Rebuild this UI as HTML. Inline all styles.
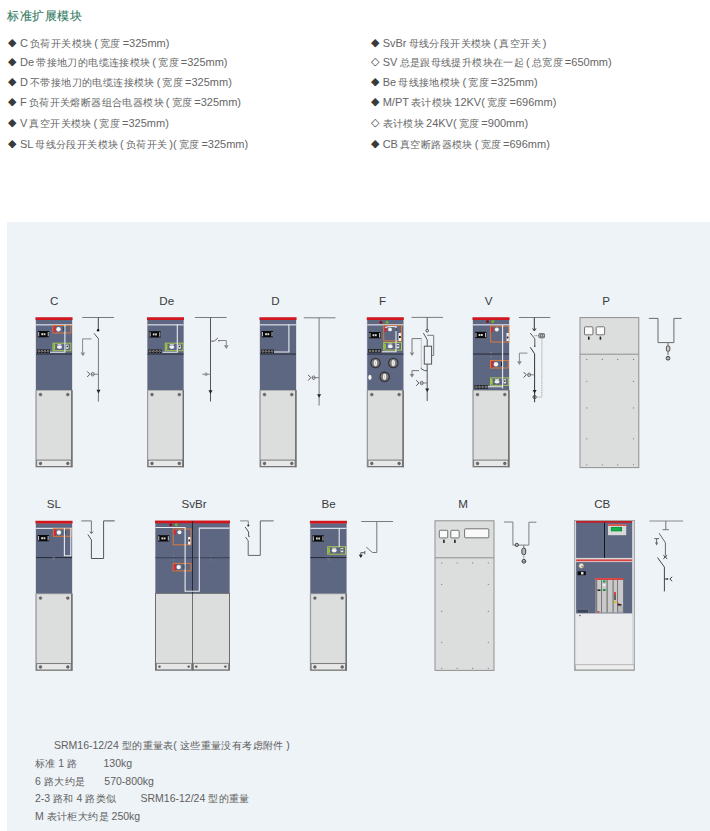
<!DOCTYPE html>
<html><head><meta charset="utf-8">
<style>
*{margin:0;padding:0;box-sizing:border-box}
html,body{width:710px;height:831px;overflow:hidden;background:#fff;font-family:"Liberation Sans",sans-serif}
.t{position:absolute;white-space:pre;color:#666;font-size:11px;line-height:14px;word-spacing:-0.9px}
.title{position:absolute;left:7.3px;top:8px;font-size:12px;letter-spacing:0.45px;color:#347c66;-webkit-text-stroke:0.12px #347c66;white-space:pre;line-height:16px}
i{font-style:normal;position:relative;top:-1px;margin-right:1.8px;color:#3a3a3a}
.r i{margin-right:2px}
b{font-weight:normal;font-size:10px;letter-spacing:0.4px;margin-right:-0.4px}
.panel{position:absolute;left:7px;top:222px;width:703px;height:609px;background:#eef3f7}
</style></head><body>
<div class="title">标准扩展模块</div>
<div class="t" style="left:8px;top:35.5px"><i>◆</i> C <b>负荷开关模块</b> ( <b>宽度</b> =325mm)</div>
<div class="t" style="left:8px;top:54.8px"><i>◆</i> De <b>带接地刀的电缆连接模块</b> ( <b>宽度</b> =325mm)</div>
<div class="t" style="left:8px;top:75px"><i>◆</i> D <b>不带接地刀的电缆连接模块</b> ( <b>宽度</b> =325mm)</div>
<div class="t" style="left:8px;top:95.3px"><i>◆</i> F <b>负荷开关熔断器组合电器模块</b> ( <b>宽度</b> =325mm)</div>
<div class="t" style="left:8px;top:115.5px"><i>◆</i> V <b>真空开关模块</b> ( <b>宽度</b> =325mm)</div>
<div class="t" style="left:8px;top:136.8px"><i>◆</i> SL <b>母线分段开关模块</b> ( <b>负荷开关</b> )( <b>宽度</b> =325mm)</div>
<div class="t r" style="left:370.5px;top:35.5px"><i>◆</i> SvBr <b>母线分段开关模块</b> ( <b>真空开关</b> )</div>
<div class="t r" style="left:370.5px;top:54.8px"><i>◇</i> SV <b>总是跟母线提升模块在一起</b> ( <b>总宽度</b> =650mm)</div>
<div class="t r" style="left:370.5px;top:75px"><i>◆</i> Be <b>母线接地模块</b> ( <b>宽度</b> =325mm)</div>
<div class="t r" style="left:370.5px;top:95.3px"><i>◆</i> M/PT <b>表计模块</b> 12KV( <b>宽度</b> =696mm)</div>
<div class="t r" style="left:370.5px;top:115.5px"><i>◇</i> <b>表计模块</b> 24KV( <b>宽度</b> =900mm)</div>
<div class="t r" style="left:370.5px;top:136.8px"><i>◆</i> CB <b>真空断路器模块</b> ( <b>宽度</b> =696mm)</div>
<div class="panel"></div>
<svg width="710" height="831" viewBox="0 0 710 831" style="position:absolute;left:0;top:0" font-family="Liberation Sans, sans-serif">
<defs>
<g id="cab">
  <rect x="0" y="0" width="37" height="150" fill="#c4c7cc"/>
  <rect x="0.5" y="2.5" width="36" height="70.4" fill="#5e6782"/>
  <rect x="0" y="0" width="37" height="2.7" fill="#d3151d"/>
  <rect x="0.5" y="7" width="36" height="1.1" fill="#e9ebef"/>
  <rect x="0.5" y="36.2" width="36" height="1.1" fill="#2a2f3c"/>
  <rect x="0" y="72.8" width="37" height="77.2" fill="#9a9a9a"/>
  <rect x="1.2" y="73.4" width="34.6" height="75.6" fill="#dcdedd"/>
  <rect x="35.6" y="72.8" width="1.4" height="77.2" fill="#6e6e6e"/>
  <rect x="1.2" y="142.8" width="34.4" height="6.4" fill="#e8e8e8" stroke="#6e6e6e" stroke-width="0.9"/>
  <g fill="#6a6a6a" stroke="#444" stroke-width="0.4"><circle cx="5" cy="77.3" r="1.4"/><circle cx="32.3" cy="77.3" r="1.4"/>
  <circle cx="5" cy="146.2" r="1.4"/><circle cx="32.3" cy="146.2" r="1.4"/></g>
</g>
<g id="disp">
  <rect x="0" y="0" width="11.5" height="6.3" fill="#0a0a0a"/>
  <rect x="0.4" y="1" width="1.1" height="4.4" fill="#b8b8b8"/><rect x="10" y="1" width="1.1" height="4.4" fill="#b8b8b8"/>
  <rect x="3.6" y="2.2" width="1.8" height="2" fill="#d8d8d8"/><rect x="5.9" y="2.2" width="1.8" height="2" fill="#d8d8d8"/>
</g>
<g id="gnd" stroke="#666" fill="none" stroke-width="0.8">
  <path d="M-2.5 0H2.5M-1.7 1.3H1.7M-0.9 2.6H0.9"/>
</g>
<g id="disp">
  <rect x="0" y="0" width="11.5" height="6.5" fill="#0c0c0c"/>
  <rect x="0.3" y="0.8" width="1" height="5" fill="#aaa"/><rect x="10.2" y="0.8" width="1" height="5" fill="#aaa"/>
  <rect x="3.8" y="2.4" width="4" height="1.8" fill="#e5e5e5"/>
</g>
<g id="strip">
  <rect x="0" y="0" width="13" height="3.6" fill="#141414"/>
  <g fill="none" stroke="#cfcfcf" stroke-width="0.6"><circle cx="1.8" cy="1.8" r="0.9"/><circle cx="4.9" cy="1.8" r="0.9"/><circle cx="8" cy="1.8" r="0.9"/><circle cx="11.1" cy="1.8" r="0.9"/></g>
</g>
<g id="obox">
  <rect x="0.5" y="0.5" width="17.8" height="7.5" fill="none" stroke="#d9793a" stroke-width="1"/>
  <rect x="1" y="1" width="2" height="6.5" fill="#e0242c"/>
  <circle cx="6" cy="4.2" r="2.2" fill="#f4f4f4"/>
  <rect x="11" y="2" width="1.5" height="4" fill="#222"/>
</g>
<g id="gbox">
  <rect x="0.5" y="0.5" width="17.8" height="7.5" fill="none" stroke="#a7c653" stroke-width="1"/>
  <rect x="1" y="1.5" width="1.6" height="5.5" fill="#9acd32"/>
  <ellipse cx="7" cy="4.4" rx="2.6" ry="1.8" fill="#f2f2f2"/>
  <rect x="5" y="1.5" width="4" height="1" fill="#ddd"/>
  <rect x="13.5" y="2" width="2.5" height="4" fill="#eee"/><rect x="14" y="3" width="1.5" height="1.5" fill="#333"/>
</g>
<path id="arr" d="M-2 0H2L0 3.6Z" fill="#222"/>
<path id="garr" d="M-2.3 0H2.3L0 3.7Z" fill="#858585"/>
<g id="cable" fill="none" stroke-width="0.8">
  <path d="M-11 -2.8L-8.3 0L-11 2.8" stroke="#444" stroke-width="0.9"/>
  <ellipse cx="-5.5" cy="0" rx="1.5" ry="1.8" stroke="#555"/>
  <path d="M-7 0H-4M-4 0H0" stroke="#666"/>
</g>
</defs>
<g font-size="11.6" fill="#3a3a3a" text-anchor="middle">
  <text x="54.2" y="304.8">C</text>
  <text x="166.7" y="304.8">De</text>
  <text x="275.4" y="304.8">D</text>
  <text x="382.6" y="304.8">F</text>
  <text x="488.5" y="304.8">V</text>
  <text x="606.2" y="304.8">P</text>
  <text x="53.9" y="507.8">SL</text>
  <text x="194" y="507.8">SvBr</text>
  <text x="328.5" y="507.8">Be</text>
  <text x="463" y="507.8">M</text>
  <text x="602.2" y="507.8">CB</text>
</g>
<!-- row 1 standard cabinets -->
<use href="#cab" x="35.5" y="317.3"/>
<use href="#cab" x="147" y="317.3"/>
<use href="#cab" x="259.5" y="317.3"/>
<use href="#cab" x="366.8" y="317.3"/>
<use href="#cab" x="472.5" y="317.3"/>
<!-- row 2 -->
<use href="#cab" x="35.5" y="520.8"/>
<use href="#cab" x="309.9" y="520.8"/>
<!-- C internals -->
<g>
<use href="#disp" x="37.7" y="331"/>
<use href="#obox" x="52.5" y="325"/>
<use href="#gbox" x="52.5" y="342.7"/>
<use href="#strip" x="37" y="349.5"/>
<path d="M64.9 325V352.2H50" stroke="#e9ebef" stroke-width="1.1" fill="none"/>
</g>
<!-- C diagram -->
<g fill="none" stroke-width="1">
<path d="M82.3 317.5H114" stroke="#7b7b7b"/>
<path d="M98.3 317.5V330" stroke="#444"/>
<circle cx="98.1" cy="330.3" r="1.2" fill="#111" stroke="none"/>
<path d="M94 333.3L98.5 338.8" stroke="#555"/>
<path d="M98.4 338.8V401.7" stroke="#777"/>
<path d="M91.5 338.9H82.6V352.5" stroke="#888"/>
<use href="#garr" x="82.9" y="352.6"/>
<use href="#cable" x="98.2" y="374.2"/>
<use href="#arr" x="98.5" y="389.8"/>
</g>
<!-- De internals -->
<g>
<use href="#disp" x="149.2" y="331.2"/>
<use href="#gbox" x="164.8" y="342.7"/>
<use href="#strip" x="148.5" y="349.5"/>
<path d="M177.3 324.5V352.2H162.5" stroke="#e9ebef" stroke-width="1.1" fill="none"/>
</g>
<!-- De diagram -->
<g fill="none" stroke-width="1">
<path d="M194.9 317.5H226.6" stroke="#7b7b7b"/>
<path d="M210.5 317.5V401.5" stroke="#555"/>
<path d="M210.5 341.1H214.2L217.9 338.1" stroke="#666"/>
<circle cx="219" cy="340.8" r="0.8" fill="#333" stroke="none"/>
<path d="M219.5 340.5H226.3V345.2" stroke="#888"/>
<use href="#garr" x="226.3" y="345.2"/>
<path d="M202.2 374.2H210.5" stroke="#888"/>
<circle cx="206.1" cy="374.2" r="1.7" fill="#999" stroke="none"/>
<use href="#arr" x="210.5" y="390.3"/>
</g>
<!-- D internals -->
<g>
<use href="#disp" x="261.5" y="331"/>
<use href="#strip" x="261" y="349.6"/>
<path d="M288.9 324.5V352H274" stroke="#e9ebef" stroke-width="1.1" fill="none"/>
</g>
<!-- D diagram -->
<g fill="none" stroke-width="1">
<path d="M303.8 317.8H335.5" stroke="#7b7b7b"/>
<path d="M319.1 317.8V405.6" stroke="#777"/>
<use href="#cable" x="319.1" y="377.7"/>
<use href="#arr" x="319.1" y="394.2"/>
</g>
<!-- F internals -->
<g>
<circle cx="380.9" cy="322.3" r="1.5" fill="#8e1414"/><circle cx="387.1" cy="322.3" r="1.5" fill="#78b02a"/>
<use href="#disp" x="369" y="332"/>
<rect x="383.7" y="325.7" width="17.8" height="15.2" fill="none" stroke="#d9793a" stroke-width="1"/>
<rect x="384.4" y="326.4" width="2" height="5.4" fill="#e0242c"/>
<path d="M385 327.5Q390 325.8 396 326.8" stroke="#f0f0f0" stroke-width="1.1" fill="none"/>
<circle cx="390" cy="329.4" r="1.9" fill="#f4f4f4"/>
<rect x="398.5" y="333" width="2.6" height="8" fill="#f0f0f0"/><rect x="399" y="336" width="1.8" height="2" fill="#222"/>
<use href="#gbox" x="383.2" y="342.1"/>
<use href="#strip" x="368.1" y="349"/>
<path d="M396 326V351.7H382" stroke="#e9ebef" stroke-width="1.1" fill="none"/>
<rect x="395.5" y="328" width="1.2" height="3" fill="#222"/>
<g fill="#7a7a78" stroke="#2c2d30" stroke-width="1.1">
<circle cx="375.5" cy="363" r="4.7"/><circle cx="393.3" cy="363" r="4.7"/><circle cx="384.6" cy="376.8" r="4.7"/>
</g>
<g fill="#f0f0f0"><ellipse cx="375.5" cy="363" rx="1.7" ry="3"/><ellipse cx="393.3" cy="363" rx="1.7" ry="3"/><ellipse cx="384.6" cy="376.8" rx="1.7" ry="3"/></g>
<g stroke="#9a9a9a" stroke-width="0.5"><path d="M375.5 361.6V364.4M393.3 361.6V364.4M384.6 375.4V378.2"/></g>
<ellipse cx="369.9" cy="377.3" rx="1.6" ry="2.6" fill="#f4f4f4"/>
</g>
<!-- F diagram -->
<g fill="none" stroke-width="1">
<path d="M411.5 317.4H443" stroke="#7b7b7b"/>
<path d="M427.2 317.4V329.4" stroke="#555"/>
<circle cx="427.2" cy="330.7" r="1.3" stroke="#444"/>
<path d="M423.4 333.1L427.2 339.7V401" stroke="#555"/>
<rect x="424.3" y="346.2" width="7.3" height="17.9" stroke="#555" fill="#eef3f7"/>
<path d="M427.2 335.3H433.7V355.4H431.6" stroke="#777"/>
<path d="M421.3 338V368.4" stroke="#999" stroke-width="0.8" stroke-dasharray="1.2 0.6"/>
<path d="M421.3 338.6H412V352.5" stroke="#777"/>
<use href="#garr" x="412" y="352.4"/>
<path d="M420.7 368.4L424.5 370.6H427.2" stroke="#555"/>
<path d="M419.1 370.6H412V374" stroke="#777"/>
<use href="#garr" x="412" y="374"/>
<use href="#cable" x="427.2" y="383"/>
<use href="#arr" x="427.2" y="388.4"/>
</g>
<!-- V internals -->
<g>
<circle cx="487.5" cy="321.5" r="1.5" fill="#8e1414"/><circle cx="492.9" cy="321.5" r="1.5" fill="#78b02a"/>
<use href="#disp" x="475" y="331.8"/>
<rect x="490.6" y="326.2" width="18.2" height="15.8" fill="none" stroke="#d9793a" stroke-width="1"/>
<rect x="491.2" y="326.8" width="1.8" height="5" fill="#e0242c"/>
<circle cx="496.8" cy="329.5" r="2" fill="#f4f4f4"/>
<rect x="506.5" y="333" width="2.3" height="8" fill="#f0f0f0"/><rect x="506.8" y="336.5" width="1.6" height="2" fill="#222"/>
<circle cx="491" cy="352.5" r="0.8" fill="#8a8f7a"/><circle cx="491" cy="356.7" r="0.8" fill="#8a8f7a"/>
<use href="#obox" x="490" y="360"/>
<use href="#gbox" x="490" y="377.4"/>
<use href="#strip" x="474.6" y="385.2"/>
<path d="M502.6 325V388.4M487.7 386.8H502.6" stroke="#e9ebef" stroke-width="1.1" fill="none"/>
</g>
<!-- V diagram -->
<g fill="none" stroke-width="1">
<path d="M518.9 317.5H550.3" stroke="#7b7b7b"/>
<path d="M534.3 317.5V330" stroke="#333"/>
<path d="M532.6 328.4L534.3 331L536 328.4" stroke="#333"/>
<path d="M530.3 333.1L534.8 338.8V346.3" stroke="#555"/>
<circle cx="534.8" cy="346.3" r="0.7" fill="#333" stroke="none"/>
<path d="M534.5 335.7H538.8" stroke="#777" stroke-dasharray="1 0.7"/>
<rect x="538.9" y="333.6" width="5.6" height="4.2" rx="0.6" fill="#cfcfcf" stroke="#444" stroke-width="0.7"/>
<g stroke="#333" stroke-width="0.5" fill="none"><circle cx="540.7" cy="334.8" r="0.6"/><circle cx="540.7" cy="336.6" r="0.6"/><circle cx="542.7" cy="334.8" r="0.6"/><circle cx="542.7" cy="336.6" r="0.6"/></g>
<path d="M530.3 347.4L534.6 353.7V402.2" stroke="#333"/>
<path d="M527.4 353.1H519.4V361.5" stroke="#888"/>
<use href="#garr" x="519.4" y="361.3"/>
<use href="#cable" x="534.6" y="374.8"/>
<use href="#arr" x="534.6" y="390"/>
<path d="M541.9 337.8V397.1H536.3" stroke="#9a9a9a" stroke-width="0.8" stroke-dasharray="1.2 0.6"/>
<circle cx="534.6" cy="397.1" r="1.6" stroke="#444"/>
</g>
<!-- P cabinet -->
<g>
<rect x="580" y="317.6" width="58.8" height="150" fill="#dcdedd" stroke="#8f8f8f" stroke-width="1"/>
<path d="M580 354.2H638.8" stroke="#8f8f8f" stroke-width="1"/>
<rect x="584.5" y="326.8" width="8.4" height="8" rx="0.8" fill="#fafafa" stroke="#555" stroke-width="0.8"/>
<rect x="596.2" y="326.8" width="8.4" height="8" rx="0.8" fill="#fafafa" stroke="#555" stroke-width="0.8"/>
<rect x="588" y="336.4" width="1.6" height="3.4" rx="0.6" fill="#222"/><rect x="599.6" y="336.4" width="1.6" height="3.4" rx="0.6" fill="#222"/>
<g fill="#777">
<circle cx="586.8" cy="359.4" r="0.6"/><circle cx="602.3" cy="359.4" r="0.6"/><circle cx="617.7" cy="359.4" r="0.6"/><circle cx="633.5" cy="359.4" r="0.6"/>
<circle cx="586.8" cy="381.3" r="0.6"/><circle cx="633.5" cy="381.3" r="0.6"/>
<circle cx="586.8" cy="407.9" r="0.6"/><circle cx="633.5" cy="407.9" r="0.6"/>
<circle cx="586.8" cy="438.8" r="0.6"/><circle cx="633.5" cy="438.8" r="0.6"/>
<circle cx="586.8" cy="464.8" r="0.6"/><circle cx="602.3" cy="464.8" r="0.6"/><circle cx="617.7" cy="464.8" r="0.6"/><circle cx="633.5" cy="464.8" r="0.6"/>
</g>
</g>
<!-- P diagram -->
<g fill="none" stroke-width="1">
<path d="M648.8 318.4H658V342.6H673.9V318.4H681.6" stroke="#6a6a6a"/>
<path d="M668 342.6V346" stroke="#666"/>
<rect x="666.4" y="346" width="3.4" height="5.2" rx="1" stroke="#555" fill="#ccc"/>
<path d="M668 351.2V355" stroke="#666"/>
<circle cx="668" cy="358.2" r="1.9" stroke="#444" fill="#999"/>
<path d="M666.3 358.2H669.7" stroke="#ddd" stroke-width="0.6"/>
</g>
<!-- SL internals -->
<g>
<use href="#disp" x="37.6" y="535"/>
<use href="#obox" x="52.9" y="528.3"/>
<path d="M64.4 528V555.8H70.8V528" stroke="#e9ebef" stroke-width="1.1" fill="none"/>
<path d="M52.8 556.5L54.8 560M54.8 556.5L52.8 560" stroke="#7d8290" stroke-width="0.6"/>
</g>
<!-- SL diagram -->
<g fill="none" stroke-width="1">
<path d="M81.3 520.9H91.4V533" stroke="#777"/>
<path d="M89.8 531.6L91.4 533.6L93 531.6" stroke="#666"/>
<path d="M87.9 534.5L91.4 539.9V558.5H103.6V520.9H114.7" stroke="#555"/>
</g>
<!-- SvBr cabinet -->
<g>
<rect x="155" y="520.6" width="75" height="150" fill="#c4c7cc"/>
<rect x="155.5" y="523" width="74" height="70.4" fill="#5e6782"/>
<rect x="155" y="520.6" width="75" height="2.7" fill="#d3151d"/>
<rect x="155.5" y="557.2" width="74" height="1.1" fill="#3c4458"/>
<rect x="155.5" y="593.4" width="37" height="76.7" fill="#dcdedd" stroke="#6e6e6e" stroke-width="1"/>
<rect x="192.5" y="593.4" width="37" height="76.7" fill="#dcdedd" stroke="#6e6e6e" stroke-width="1"/>
<rect x="156.5" y="663.3" width="35" height="6.5" fill="#e6e6e6" stroke="#777" stroke-width="0.8"/>
<rect x="193.5" y="663.3" width="35" height="6.5" fill="#e6e6e6" stroke="#777" stroke-width="0.8"/>
<g fill="#555"><circle cx="159.5" cy="666.6" r="1.2"/><circle cx="188.7" cy="666.6" r="1.2"/><circle cx="196.3" cy="666.6" r="1.2"/><circle cx="225.4" cy="666.6" r="1.2"/></g>
<path d="M192.5 521V593.5" stroke="#262a35" stroke-width="1"/>
<circle cx="170.7" cy="524.7" r="1.5" fill="#8e1414"/><circle cx="176.2" cy="524.7" r="1.5" fill="#78b02a"/>
<use href="#disp" x="157.8" y="535.2"/>
<rect x="173.2" y="529" width="17.8" height="15.8" fill="none" stroke="#d9793a" stroke-width="1"/>
<rect x="173.8" y="529.6" width="1.8" height="5" fill="#e0242c"/>
<circle cx="179.5" cy="532.3" r="2" fill="#f4f4f4"/>
<rect x="188" y="537" width="2.5" height="7.5" fill="#f0f0f0"/><rect x="188.4" y="539.5" width="1.6" height="2" fill="#222"/>
<use href="#obox" x="172.7" y="562.9"/>
<path d="M155.5 527.5H185.1V591.2H199.3V528.1H229.5" stroke="#e9ebef" stroke-width="1.1" fill="none"/>
<g fill="#7d8290"><circle cx="173.6" cy="556" r="0.7"/><circle cx="173.6" cy="560" r="0.7"/><circle cx="210.6" cy="556" r="0.7"/><circle cx="210.6" cy="560" r="0.7"/></g>
</g>
<!-- SvBr diagram -->
<g fill="none" stroke-width="1">
<path d="M240.1 520.9H248.3V525" stroke="#888"/>
<circle cx="248.3" cy="525.6" r="1" fill="#222" stroke="none"/>
<path d="M245.1 526.9L248.6 532V536.4H249.8" stroke="#555"/>
<path d="M245.5 537L248.2 540.8V555.4H260.3V520.9H273.7" stroke="#666"/>
</g>
<!-- Be internals -->
<g>
<use href="#disp" x="312.4" y="535.3"/>
<use href="#gbox" x="327.2" y="546.2"/>
<path d="M339.2 528V547" stroke="#e9ebef" stroke-width="1.1" fill="none"/>
<path d="M327.5 557.5L329.5 561M329.5 557.5L327.5 561" stroke="#7d8290" stroke-width="0.6"/>
</g>
<!-- Be diagram -->
<g fill="none" stroke-width="1">
<path d="M361.3 521.5H393" stroke="#7b7b7b"/>
<path d="M376.8 521.5V552.5H372.5L366.2 547.1" stroke="#777"/>
<path d="M360.8 552.7H364.2M364.8 551V554.3M360.8 552.7V555" stroke="#444" stroke-width="0.9"/>
<path d="M358.8 554.7H362.8L360.8 558Z" fill="#222" stroke="none"/>
</g>
<!-- M cabinet -->
<g>
<rect x="435" y="520.8" width="59" height="149.6" fill="#dcdedd" stroke="#8f8f8f" stroke-width="1"/>
<path d="M435 557.8H494" stroke="#8f8f8f" stroke-width="1"/>
<rect x="439.3" y="530.3" width="8.4" height="7.6" rx="0.8" fill="#fafafa" stroke="#555" stroke-width="0.8"/>
<rect x="450.8" y="530.3" width="8.4" height="7.6" rx="0.8" fill="#fafafa" stroke="#555" stroke-width="0.8"/>
<rect x="443.1" y="539.4" width="1.6" height="3.6" rx="0.6" fill="#222"/><rect x="454.1" y="539.4" width="1.6" height="3.6" rx="0.6" fill="#222"/>
<rect x="464.6" y="528.8" width="24.2" height="9" rx="0.8" fill="#fafafa" stroke="#555" stroke-width="0.8"/>
<g fill="#777">
<circle cx="441.7" cy="562.8" r="0.6"/><circle cx="457.1" cy="562.8" r="0.6"/><circle cx="472.7" cy="562.8" r="0.6"/><circle cx="488.3" cy="562.8" r="0.6"/>
<circle cx="441.7" cy="584.3" r="0.6"/><circle cx="488.3" cy="584.3" r="0.6"/>
<circle cx="441.7" cy="611.4" r="0.6"/><circle cx="488.3" cy="611.4" r="0.6"/>
<circle cx="441.7" cy="642.3" r="0.6"/><circle cx="488.3" cy="642.3" r="0.6"/>
<circle cx="441.7" cy="668.3" r="0.6"/><circle cx="457.1" cy="668.3" r="0.6"/><circle cx="472.7" cy="668.3" r="0.6"/><circle cx="488.3" cy="668.3" r="0.6"/>
</g>
</g>
<!-- M diagram -->
<g fill="none" stroke-width="1">
<path d="M503.9 522H512.9V545.1H528.9V522.2H536.4" stroke="#808080"/>
<circle cx="516.8" cy="544.9" r="1.6" stroke="#444" fill="#bbb"/>
<path d="M523.8 545.1V548" stroke="#777"/>
<rect x="521.9" y="548.1" width="3.8" height="6.6" rx="1.8" stroke="#444" fill="#bbb"/>
<path d="M523.8 554.7V559.2" stroke="#888" stroke-dasharray="0.8 0.5"/>
<circle cx="523.9" cy="561.3" r="1.9" stroke="#444" fill="#ccc"/>
<path d="M522.2 561.3H525.6" stroke="#444" stroke-width="0.7"/>
</g>
<!-- CB cabinet -->
<g>
<rect x="574.4" y="520.4" width="60" height="150" fill="#d6d7d8" stroke="#9a9a9a" stroke-width="0.8"/>
<rect x="576.1" y="521.1" width="56" height="36.8" fill="#5e6782"/>
<rect x="576.1" y="521.1" width="56" height="1.6" fill="#d3151d"/>
<path d="M604.5 522.5V557.9" stroke="#15171c" stroke-width="1"/>
<rect x="608" y="524.4" width="18.2" height="10.8" fill="#d8d8d8"/>
<rect x="608" y="524.4" width="18.2" height="1.4" fill="#e03030"/>
<rect x="610.4" y="526.6" width="11.9" height="5.2" fill="#0c8a3a" stroke="#eee" stroke-width="0.6"/>
<rect x="611.5" y="527.6" width="9" height="3" fill="#16b14a"/>
<rect x="576.1" y="559.4" width="56" height="1.8" fill="#e04040"/>
<rect x="576.1" y="562.1" width="56" height="51.5" fill="#5e6782"/>
<circle cx="581.3" cy="565.8" r="2.5" fill="#e8e8e8" stroke="#7a8a4a" stroke-width="0.6"/>
<path d="M581.3 565.8L583 567" stroke="#c22" stroke-width="0.8"/>
<rect x="577.6" y="571.3" width="8.2" height="3.9" fill="#0c0c0c"/><rect x="581" y="572" width="2.5" height="2.5" fill="#ddd"/>
<rect x="577" y="609.2" width="11.3" height="3.8" fill="#3c4458" stroke="#8088a0" stroke-width="0.5"/>
<rect x="595.3" y="578.2" width="27.8" height="34.4" fill="#c9c9c9"/>
<rect x="595.3" y="578.2" width="27.8" height="1.7" fill="#e03030"/>
<g fill="#7a7a7a"><rect x="595.3" y="580" width="1.9" height="32.6"/><rect x="601" y="580" width="1" height="32.6"/><rect x="606.5" y="580" width="1.3" height="32.6"/><rect x="612.5" y="580" width="1.2" height="32.6"/><rect x="617" y="580" width="1" height="32.6"/></g>
<rect x="597.5" y="589.5" width="3" height="1.4" fill="#111"/>
<rect x="602.8" y="580.5" width="2.8" height="2" fill="#1a9a4a"/><rect x="602.8" y="584" width="2.8" height="2.2" fill="#eee"/><rect x="602.8" y="589" width="2.8" height="2" fill="#1a9a4a"/>
<rect x="614.2" y="592" width="1.6" height="3" fill="#d22"/><rect x="614.4" y="595" width="1.2" height="5" fill="#222"/><rect x="613.8" y="601" width="2.6" height="2.2" fill="#d8c020"/>
<rect x="617.5" y="604" width="4" height="1.6" fill="#222"/><rect x="617.5" y="603.3" width="2" height="1" fill="#d22"/>
<rect x="618" y="606" width="4.5" height="6" fill="#bbb" stroke="#888" stroke-width="0.4"/>
<rect x="597.5" y="611" width="1.8" height="1.6" fill="#e03030"/>
<rect x="576.1" y="613.6" width="56" height="51.2" fill="#ebecee"/>
<circle cx="579.9" cy="615.5" r="0.7" fill="#444"/>
<rect x="575.5" y="664.8" width="58.5" height="5" fill="#eeeeee" stroke="#999" stroke-width="0.6"/>
</g>
<!-- CB diagram -->
<g fill="none" stroke-width="1">
<path d="M649.5 521H683.1" stroke="#8a8a8a"/>
<path d="M665.8 521V529.7M662.5 529.7H669" stroke="#777"/>
<path d="M659.1 533.2L665.4 542.7V555.5" stroke="#666"/>
<path d="M663.4 555.2L667.2 558.8M667.2 555.2L663.4 558.8" stroke="#333"/>
<path d="M654.3 538.6H659.1M656.6 538.6V543" stroke="#666"/>
<path d="M655 542.6H658.2L656.6 545.6Z" fill="#666" stroke="none"/>
<path d="M657.5 557.5L664.4 567.1V591.4" stroke="#444"/>
<circle cx="667.3" cy="579" r="1" fill="#555" stroke="none"/>
<path d="M664.4 579H667.3M672.2 576.8L669.8 579L672.2 581.2" stroke="#444"/>
</g>
</svg>
<div class="t" style="left:54px;top:738px;font-size:10.5px;word-spacing:0;color:#606060">SRM16-12/24 <b>型的重量表</b>( <b>这些重量没有考虑附件</b> )</div>
<div class="t" style="left:35px;top:756px;font-size:10.5px;word-spacing:0;color:#606060"><b>标准</b> 1 <b>路</b></div><div class="t" style="left:103.5px;top:756px;font-size:10.5px;word-spacing:0;color:#606060">130kg</div>
<div class="t" style="left:35px;top:774px;font-size:10.5px;word-spacing:0;color:#606060">6 <b>路大约是</b></div><div class="t" style="left:104.3px;top:774px;font-size:10.5px;word-spacing:0;color:#606060">570-800kg</div>
<div class="t" style="left:35px;top:791px;font-size:10.5px;word-spacing:0;color:#606060">2-3 <b>路和</b> 4 <b>路类似</b></div><div class="t" style="left:140.5px;top:791px;font-size:10.5px;word-spacing:0;color:#606060">SRM16-12/24 <b>型的重量</b></div>
<div class="t" style="left:35px;top:809px;font-size:10.5px;word-spacing:0;color:#606060">M <b>表计柜大约是</b> 250kg</div>
</body></html>
